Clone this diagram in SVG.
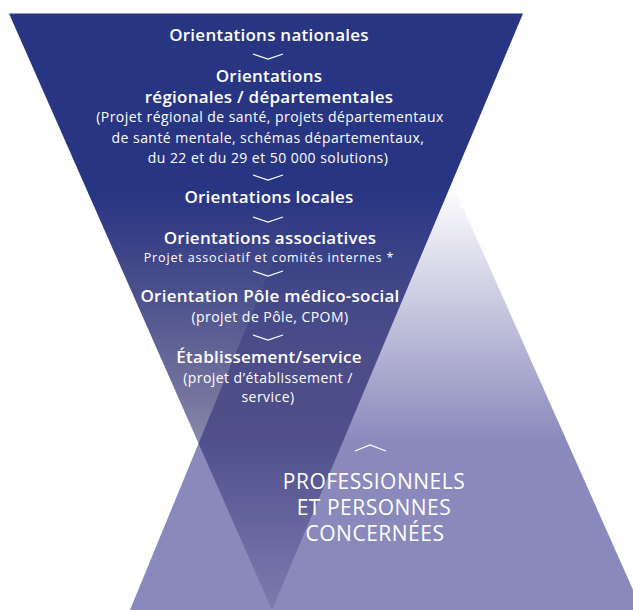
<svg xmlns="http://www.w3.org/2000/svg" width="633" height="610" viewBox="0 0 633 610">
  <defs>
    <!-- rising pyramid: fades in from white to lavender -->
    <linearGradient id="gradUp" gradientUnits="userSpaceOnUse" x1="0" y1="12" x2="0" y2="610">
      <stop offset="0" stop-color="#ffffff"/>
      <stop offset="0.29" stop-color="#ffffff"/>
      <stop offset="0.72" stop-color="#8a89bc"/>
      <stop offset="1" stop-color="#8a89bc"/>
    </linearGradient>
    <!-- funnel: solid navy at the top, thinning out towards the tip -->
    <linearGradient id="gradDown" gradientUnits="userSpaceOnUse" x1="0" y1="13" x2="0" y2="610">
      <stop offset="0" stop-color="#283583" stop-opacity="1"/>
      <stop offset="0.3" stop-color="#283583" stop-opacity="1"/>
      <stop offset="0.66" stop-color="#16165c" stop-opacity="0.58"/>
      <stop offset="1" stop-color="#16165c" stop-opacity="0.12"/>
    </linearGradient>
  </defs>
  <style>
    .h { font-family: "Open Sans", "Liberation Sans", sans-serif; font-weight: 600; font-size: 17px; letter-spacing: 0.25px; fill: #ffffff; text-anchor: middle; }
    .s { font-family: "Open Sans", "Liberation Sans", sans-serif; font-weight: 400; font-size: 14px; letter-spacing: 0.45px; fill: #ffffff; text-anchor: middle; }
    .xs { font-family: "Open Sans", "Liberation Sans", sans-serif; font-weight: 400; font-size: 12.5px; letter-spacing: 0.85px; fill: #ffffff; text-anchor: middle; }
    .cap { font-family: "Open Sans", "Liberation Sans", sans-serif; font-weight: 400; font-size: 21px; letter-spacing: 0.5px; fill: #ffffff; text-anchor: middle; }
    .chev { fill: none; stroke: #ffffff; stroke-width: 1.2; stroke-linejoin: miter; }
  </style>

  <rect width="633" height="610" fill="#ffffff"/>

  <g id="backdrop">
    <polygon id="pyramid-up" points="376,12 130,610 642,610" fill="url(#gradUp)"/>
    <polygon id="funnel-down" points="9,13.5 523,13.5 272,610" fill="url(#gradDown)"/>
  </g>

  <g id="connectors">
    <polyline class="chev" points="253,54 268,59 283,54"/>
    <polyline class="chev" points="253,175 268,180 283,175"/>
    <polyline class="chev" points="253,217 268,222 283,217"/>
    <polyline class="chev" points="253,271 268,276 283,271"/>
    <polyline class="chev" points="253,335 268,340 283,335"/>
    <polyline class="chev" points="355,451 370,445 386,451"/>
  </g>

  <g id="node-nationales">
    <text class="h" x="269" y="41">Orientations nationales</text>
  </g>

  <g id="node-regionales">
    <text class="h" x="269" y="82">Orientations</text>
    <text class="h" x="269" y="103">régionales / départementales</text>
    <text class="s" x="270" y="122">(Projet régional de santé, projets départementaux</text>
    <text class="s" x="268" y="143">de santé mentale, schémas départementaux,</text>
    <text class="s" x="268" y="163">du 22 et du 29 et 50 000 solutions)</text>
  </g>

  <g id="node-locales">
    <text class="h" x="269" y="203">Orientations locales</text>
  </g>

  <g id="node-associatives">
    <text class="h" x="270" y="244">Orientations associatives</text>
    <text class="xs" x="269" y="262">Projet associatif et comités internes *</text>
  </g>

  <g id="node-pole">
    <text class="h" x="270" y="302">Orientation Pôle médico-social</text>
    <text class="s" x="270" y="322">(projet de Pôle, CPOM)</text>
  </g>

  <g id="node-etablissement">
    <text class="h" x="269" y="363">Établissement/service</text>
    <text class="s" x="268" y="383">(projet d’établissement /</text>
    <text class="s" x="268" y="402">service)</text>
  </g>

  <g id="node-professionnels">
    <text class="cap" x="374" y="489">PROFESSIONNELS</text>
    <text class="cap" x="374" y="515">ET PERSONNES</text>
    <text class="cap" x="375" y="541">CONCERNÉES</text>
  </g>
</svg>
